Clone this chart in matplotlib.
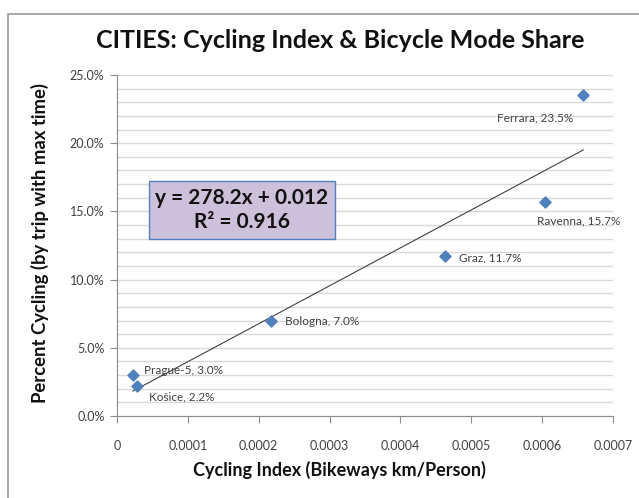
import numpy as np
import matplotlib.pyplot as plt
from matplotlib.patches import Rectangle
from matplotlib.ticker import MultipleLocator, FuncFormatter

# cycling index (bikeways km / person) vs bicycle mode share
cities = ["Prague-5", "Košice", "Bologna", "Graz", "Ravenna", "Ferrara"]
cycling_index = [0.0000226, 0.0000282, 0.000217, 0.000463, 0.000604, 0.000658]
mode_share = [0.030, 0.022, 0.070, 0.117, 0.157, 0.235]

# linear trend as reported on the chart
slope = 278.2
intercept = 0.012
r2 = 0.916

plt.rcParams['font.family'] = ['Lato', 'DejaVu Sans']

fig = plt.figure(figsize=(6.39, 4.98), dpi=100)
ax = fig.add_axes([117/639, 1-416/498, 496/639, 341/498])

# chart border
fig.patches.append(Rectangle((8/639, -0.1), 1.2, 1-14/498+0.1, transform=fig.transFigure,
                             fill=False, edgecolor='#9a9a9a', linewidth=1.2))

ax.set_xlim(0, 0.0007)
ax.set_ylim(0, 0.25)
ax.xaxis.set_major_locator(MultipleLocator(0.0001))
ax.yaxis.set_major_locator(MultipleLocator(0.05))
ax.yaxis.set_minor_locator(MultipleLocator(0.01))
ax.xaxis.set_major_formatter(FuncFormatter(lambda v, p: "0" if abs(v) < 1e-12 else "%.4f" % v))
ax.yaxis.set_major_formatter(FuncFormatter(lambda v, p: "%.1f%%" % (v*100)))
ax.grid(True, which='both', axis='y', color='#d9d9d9', linewidth=1.0)
ax.set_axisbelow(True)
for s in ['top', 'right']:
    ax.spines[s].set_visible(False)
for s in ['left', 'bottom']:
    ax.spines[s].set_color('#8c8c8c')
ax.tick_params(axis='both', which='major', direction='out', length=5, color='#8c8c8c',
               labelsize=9, labelcolor='#404040', pad=4)
ax.tick_params(axis='y', which='minor', length=0)
ax.tick_params(axis='x', pad=12)

xs = np.array([min(cycling_index), max(cycling_index)])
ax.plot(xs, slope*xs + intercept, color='#404040', linewidth=0.8, zorder=2)
ax.scatter(cycling_index, mode_share, marker='D', s=32, color='#4f81bd', zorder=3)

offsets = {"Prague-5": (8, 3), "Košice": (9, -8), "Bologna": (10, -1),
           "Graz": (10, -1), "Ravenna": (-6, -14), "Ferrara": (-62, -16)}
for c, x, y in zip(cities, cycling_index, mode_share):
    dx, dy = offsets[c]
    ax.annotate("%s, %.1f%%" % (c, y*100), (x, y), xytext=(dx, dy), textcoords='offset points',
                fontsize=8.5, color='#404040', va='center', ha='left')

ax.text(0.252, 0.604, "y = 278.2x + 0.012\nR² = 0.916", transform=ax.transAxes,
        ha='center', va='center', fontsize=15, fontweight='bold', color='#111111', linespacing=1.3,
        bbox=dict(boxstyle='square,pad=0.3', facecolor='#ccc0da', edgecolor='#4f81bd', linewidth=1))

fig.text(340/639, 1-40/498, "CITIES: Cycling Index & Bicycle Mode Share", ha='center', va='center',
         fontsize=18, fontweight='bold', color='#111111')
fig.text(339/639, 1-470/498, "Cycling Index (Bikeways km/Person)", ha='center', va='center',
         fontsize=13, fontweight='bold', color='#111111')
fig.text(40/639, 1-243/498, "Percent Cycling (by trip with max time)", ha='center', va='center',
         rotation=90, fontsize=13.3, fontweight='bold', color='#111111')

fig.savefig("out.png", dpi=100)
